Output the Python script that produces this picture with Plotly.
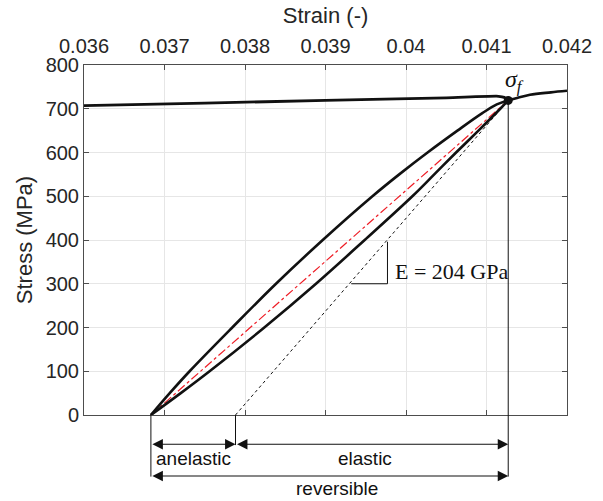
import plotly.graph_objects as go

# ---------------- data ----------------
strain_tick_vals = [0.036, 0.037, 0.038, 0.039, 0.040, 0.041, 0.042]
strain_tick_text = ["0.036", "0.037", "0.038", "0.039", "0.04", "0.041", "0.042"]
stress_tick_vals = [0, 100, 200, 300, 400, 500, 600, 700, 800]

# loading branch of the loop (upper, concave)
load_stress = [0, 50, 100, 200, 300, 400, 500, 550, 600, 650, 690, 710, 719]
load_strain = [0.036831, 0.037065, 0.037312, 0.037842, 0.038385, 0.038966, 0.039583,
               0.039916, 0.040268, 0.040639, 0.040948, 0.041128, 0.041270]

# unloading branch of the loop (lower, convex)
unload_stress = [0, 50, 100, 200, 300, 400, 500, 550, 600, 650, 700, 719]
unload_strain = [0.036831, 0.037202, 0.037560, 0.038240, 0.038882, 0.039487, 0.040079,
                 0.040351, 0.040622, 0.040900, 0.041171, 0.041270]

# upper curve coming from the left into the fracture point
top_strain = [0.036, 0.0375, 0.039, 0.0405, 0.04115, 0.04122, 0.04127]
top_stress = [707, 713, 719, 725, 728.5, 726, 719]

# curve continuing to the right of the fracture point
right_strain = [0.04127, 0.04138, 0.04154, 0.0418, 0.042]
right_stress = [719, 724.5, 732, 737.5, 741]

# mean secant (red dash-dot) and elastic (dotted) lines
secant_strain = [0.036831, 0.04127]
secant_stress = [0, 719]
elastic_strain = [0.037882, 0.04127]
elastic_stress = [0, 719]

# slope triangle
tri_strain = [0.03932, 0.03977, 0.03977]
tri_stress = [300, 300, 396]

# fracture point
frac_strain = 0.04127
frac_stress = 719

# strain limits of the bottom dimension arrows
eps_start = 0.036831
eps_elastic0 = 0.037882
eps_end = 0.04127

TXT = "#262626"
AX = "#4d4d4d"
FONT = "Liberation Sans, Arial, sans-serif"
SERIF = "Liberation Serif, Times New Roman, serif"

fig = go.Figure()

fig.add_trace(go.Scatter(x=top_strain, y=top_stress, mode="lines",
                         line=dict(color="#111111", width=2.8, shape="spline", smoothing=0.6)))
fig.add_trace(go.Scatter(x=right_strain, y=right_stress, mode="lines",
                         line=dict(color="#111111", width=2.6, shape="spline")))
fig.add_trace(go.Scatter(x=secant_strain, y=secant_stress, mode="lines",
                         line=dict(color="#ee1c25", width=1.2, dash="dashdot")))
fig.add_trace(go.Scatter(x=elastic_strain, y=elastic_stress, mode="lines",
                         line=dict(color="#111111", width=1, dash="dot")))
fig.add_trace(go.Scatter(x=load_strain, y=load_stress, mode="lines",
                         line=dict(color="#111111", width=2.6, shape="spline")))
fig.add_trace(go.Scatter(x=unload_strain, y=unload_stress, mode="lines",
                         line=dict(color="#111111", width=2.6, shape="spline")))
fig.add_trace(go.Scatter(x=tri_strain, y=tri_stress, mode="lines",
                         line=dict(color="#111111", width=1)))
fig.add_trace(go.Scatter(x=[frac_strain], y=[frac_stress], mode="markers",
                         marker=dict(color="#111111", size=9)))

shapes = [
    # vertical line from fracture point to axis
    dict(type="line", xref="x", yref="y", x0=eps_end, x1=eps_end, y0=0, y1=frac_stress,
         line=dict(color="#111111", width=1)),
    # vertical extension lines below the axis
    dict(type="line", xref="x", yref="paper", x0=eps_start, x1=eps_start, y0=0, y1=-0.176,
         line=dict(color="#111111", width=1)),
    dict(type="line", xref="x", yref="paper", x0=eps_elastic0, x1=eps_elastic0, y0=0, y1=-0.086,
         line=dict(color="#111111", width=1)),
    dict(type="line", xref="x", yref="paper", x0=eps_end, x1=eps_end, y0=0, y1=-0.176,
         line=dict(color="#111111", width=1)),
]

ARROW_Y1 = -0.0837
ARROW_Y2 = -0.1743


def dim_arrow(a, b, yp):
    return dict(x=b, y=yp, xref="x", yref="paper", ax=a, ay=0, axref="x", ayref="pixel",
                text="", showarrow=True, arrowhead=2, startarrowhead=2, arrowside="end+start",
                arrowsize=1.9, startarrowsize=1.9, arrowwidth=1.1, arrowcolor="#111111",
                standoff=0, startstandoff=0)


annotations = [
    dim_arrow(eps_start, eps_elastic0, ARROW_Y1),
    dim_arrow(eps_elastic0, eps_end, ARROW_Y1),
    dim_arrow(eps_start, eps_end, ARROW_Y2),
    dict(x=0.03736, y=-0.124, xref="x", yref="paper", text="anelastic", showarrow=False,
         font=dict(family=FONT, size=19, color="#111111"), xanchor="center", yanchor="middle"),
    dict(x=0.03949, y=-0.124, xref="x", yref="paper", text="elastic", showarrow=False,
         font=dict(family=FONT, size=19, color="#111111"), xanchor="center", yanchor="middle"),
    dict(x=0.03914, y=-0.209, xref="x", yref="paper", text="reversible", showarrow=False,
         font=dict(family=FONT, size=19, color="#111111"), xanchor="center", yanchor="middle"),
    dict(x=0.039837, y=327, xref="x", yref="y", text="E = 204 GPa", showarrow=False,
         font=dict(family=SERIF, size=22, color="#111111"), xanchor="left", yanchor="middle"),
    dict(x=frac_strain, y=frac_stress, xref="x", yref="y", text="<i>σ</i><sub><i>f</i></sub>",
         showarrow=False, font=dict(family=SERIF, size=24, color="#111111"),
         xanchor="left", yanchor="bottom", xshift=-5, yshift=2),
]

fig.update_layout(
    width=603, height=501,
    margin=dict(l=84, r=36, t=65, b=86),
    paper_bgcolor="white", plot_bgcolor="white",
    showlegend=False,
    shapes=shapes, annotations=annotations,
    font=dict(family=FONT, color=TXT),
)

fig.update_xaxes(
    side="top", range=[0.036, 0.042], tickvals=strain_tick_vals, ticktext=strain_tick_text,
    ticks="inside", ticklen=5, tickcolor=AX, showline=True, linecolor=AX, linewidth=1,
    mirror="ticks", showgrid=True, gridcolor="#e6e6e6", zeroline=False,
    tickfont=dict(family=FONT, size=20, color=TXT), ticklabelstandoff=3,
    title=dict(text="Strain (-)", font=dict(family=FONT, size=22, color=TXT), standoff=5),
)
fig.update_yaxes(
    range=[0, 800], tickvals=stress_tick_vals,
    ticks="inside", ticklen=5, tickcolor=AX, showline=True, linecolor=AX, linewidth=1,
    mirror="ticks", showgrid=True, gridcolor="#e6e6e6", zeroline=False,
    tickfont=dict(family=FONT, size=20, color=TXT),
    title=dict(text="Stress (MPa)", font=dict(family=FONT, size=22, color=TXT), standoff=6),
)

fig.write_html("out.html")
